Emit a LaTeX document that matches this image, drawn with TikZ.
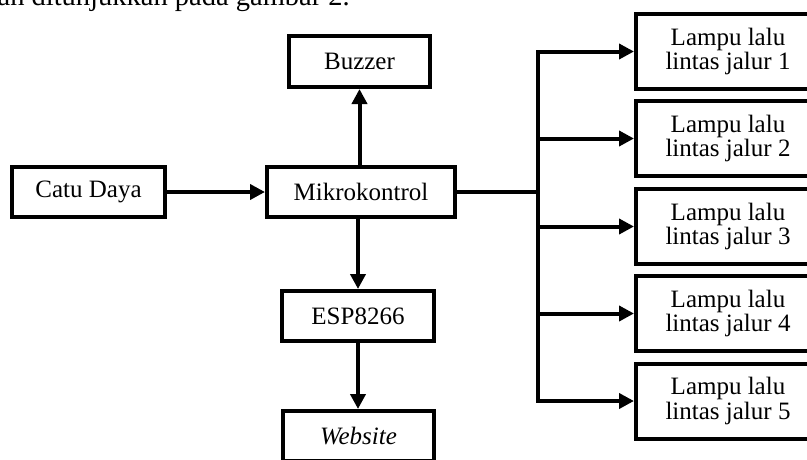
\documentclass[tikz,border=0pt]{standalone}
\usepackage{fontspec}
\setmainfont{Liberation Serif}
\usetikzlibrary{arrows.meta}
\begin{document}
\begin{tikzpicture}[x=1pt,y=-1pt,
  box/.style={draw, line width=4pt, inner sep=0pt, align=center, font=\fontsize{25}{24.5}\selectfont},
  arr/.style={line width=4pt, -{Triangle[length=15pt,width=15pt]}},
  ln/.style={line width=4pt}]
\useasboundingbox (0,0) rectangle (807,459);
\node[anchor=base east, inner sep=0pt, font=\fontsize{28.5}{30}\selectfont] (cap) at (350,5) {dan ditunjukkan pada gambar 2.};
\node[box, minimum width=153pt, minimum height=50pt] (catu) at (88.5,192) {Catu Daya};
\node[box, minimum width=188pt, minimum height=50pt] (mikro) at (361,192) {Mikrokontrol};
\node[box, minimum width=141pt, minimum height=51pt] (buzzer) at (359.5,61.5) {Buzzer};
\node[box, minimum width=152pt, minimum height=50pt] (esp) at (358,316) {ESP8266};
\node[box, minimum width=151pt, minimum height=50pt] (web) at (358.5,436) {\textit{Website}};
\node[box, minimum width=184pt, minimum height=75pt] (l1) at (728,51.5) {Lampu lalu\\lintas jalur 1};
\node[box, minimum width=184pt, minimum height=75pt] (l2) at (728,138.5) {Lampu lalu\\lintas jalur 2};
\node[box, minimum width=184pt, minimum height=75pt] (l3) at (728,226.5) {Lampu lalu\\lintas jalur 3};
\node[box, minimum width=184pt, minimum height=75pt] (l4) at (728,313.5) {Lampu lalu\\lintas jalur 4};
\node[box, minimum width=184pt, minimum height=75pt] (l5) at (728,401) {Lampu lalu\\lintas jalur 5};
\coordinate (j) at (538,192);
\draw[arr] (catu.east) -- (mikro.west);
\draw[arr] (mikro.north -| buzzer.south) -- (buzzer.south);
\draw[arr] (mikro.south -| esp.north) -- (esp.north);
\draw[arr] (esp.south) -- (esp.south |- web.north);
\draw[ln] (mikro.east) -- (j);
\foreach \n in {l1,l2,l3,l4,l5} \draw[arr] (j) |- (\n.west);
\end{tikzpicture}
\end{document}
